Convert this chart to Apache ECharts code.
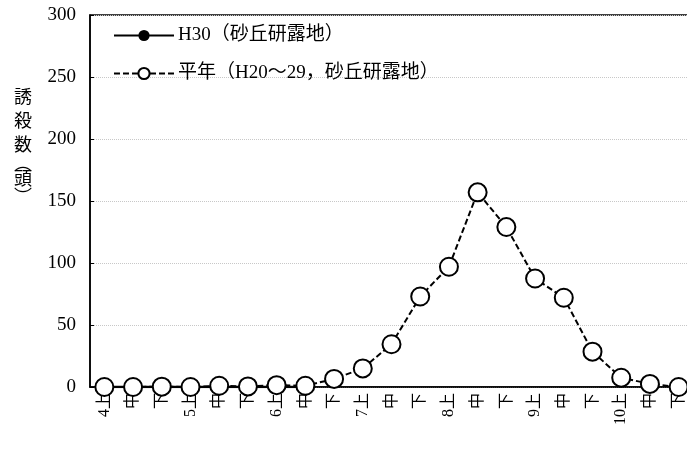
<!DOCTYPE html>
<html>
<head>
<meta charset="utf-8">
<script src="https://cdn.jsdelivr.net/npm/echarts@6/dist/echarts.min.js"></script>
<style>
html,body{margin:0;padding:0;background:#fff;overflow:hidden;width:687px;height:457px;}
#chart{width:700px;height:457px;}
</style>
</head>
<body>
<div id="chart"></div>
<script>
var categories = ['4上','中','下','5上','中','下','6上','中','下','7上','中','下','8上','中','下','9上','中','下','10上','中','下'];
var h30Values = [0,0,0,0,0,0,0,0,null,null,null,null,null,null,null,null,null,null,null,null,null];
var avgValues = [0,0,0.3,0,1,0.5,1.5,1,6.5,15,34.5,73,97,157,129,87.5,72,28.5,7.5,2.5,0];
var yTicks = [0,50,100,150,200,250,300];
var seriesNames = ['H30（砂丘研露地）','平年（H20～29，砂丘研露地）'];
var yTitleChars = ['誘','殺','数','︵','頭','︶'];

var FONT = "'Liberation Serif','Noto Sans CJK JP',serif";
var chart = echarts.init(document.getElementById('chart'), null, {renderer:'canvas'});

var titleY = [96,120,144,163,178,196];
var graphics = yTitleChars.map(function(c,i){
  return {type:'text', left:14, top:titleY[i]-9, style:{text:c, font:"18px 'Noto Sans CJK JP'", fill:'#000'}};
});

chart.setOption({
  animation:false,
  backgroundColor:'#fff',
  grid:{left:90, top:15, right:7, bottom:70, show:true, borderColor:'#000', borderWidth:1.5, backgroundColor:'transparent'},
  legend:{
    orient:'vertical', left:113, top:26, padding:0, itemWidth:60, itemHeight:14, itemGap:19,
    textStyle:{fontFamily:FONT, fontSize:19, color:'#000', padding:[0,0,0,-1]},
    data:seriesNames
  },
  graphic:graphics,
  xAxis:{
    type:'category', data:categories, boundaryGap:true,
    axisLine:{lineStyle:{color:'#000', width:1.5}},
    axisTick:{inside:true, length:5, lineStyle:{color:'#000'}},
    axisLabel:{rotate:90, margin:6, interval:0, fontFamily:FONT, fontSize:16, color:'#000'}
  },
  yAxis:{
    type:'value', min:yTicks[0], max:yTicks[yTicks.length-1], interval:50,
    axisLine:{show:true, lineStyle:{color:'#000', width:1.5}},
    axisTick:{show:true, inside:true, length:4, lineStyle:{color:'#000'}},
    axisLabel:{margin:14, fontFamily:FONT, fontSize:19, color:'#000'},
    splitLine:{lineStyle:{color:'#c8c8c8', width:1, type:'dotted'}}
  },
  series:[
    {
      name:seriesNames[0], type:'line', data:h30Values, z:2,
      symbol:'circle', symbolSize:10, showSymbol:true,
      itemStyle:{color:'#000', borderColor:'#000'},
      lineStyle:{color:'#000', width:2.5, type:'solid'}
    },
    {
      name:seriesNames[1], type:'line', data:avgValues, z:3,
      symbol:'circle', symbolSize:18,
      itemStyle:{color:'#fff', borderColor:'#000', borderWidth:2},
      lineStyle:{color:'#000', width:2, type:[6,3]}
    }
  ]
});
</script>
</body>
</html>
